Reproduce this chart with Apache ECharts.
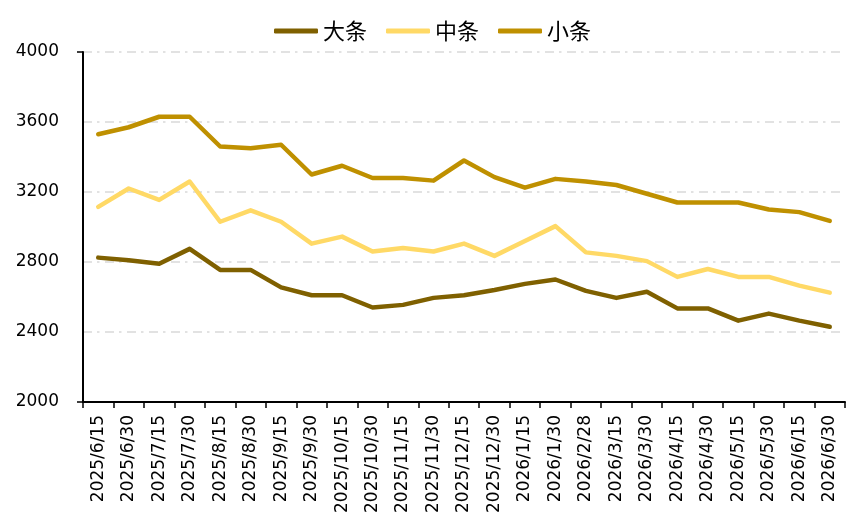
<!DOCTYPE html>
<html>
<head>
<meta charset="utf-8">
<script src="https://cdn.jsdelivr.net/npm/echarts@6/dist/echarts.min.js"></script>
<style>html,body{margin:0;padding:0;background:#fff;}#c{width:865px;height:523px;}</style>
</head>
<body>
<div id="c"></div>
<script>
const categories = ['2025/6/15','2025/6/30','2025/7/15','2025/7/30','2025/8/15','2025/8/30','2025/9/15','2025/9/30','2025/10/15','2025/10/30','2025/11/15','2025/11/30','2025/12/15','2025/12/30','2026/1/15','2026/1/30','2026/2/28','2026/3/15','2026/3/30','2026/4/15','2026/4/30','2026/5/15','2026/5/30','2026/6/15','2026/6/30'];
const seriesNames = ['大条','中条','小条'];
const daTiao = [2825,2810,2790,2875,2755,2755,2655,2610,2610,2540,2555,2595,2610,2640,2675,2700,2635,2595,2630,2535,2535,2465,2505,2465,2430];
const zhongTiao = [3115,3220,3155,3260,3030,3095,3030,2905,2945,2860,2880,2860,2905,2835,2920,3005,2855,2835,2805,2715,2760,2715,2715,2665,2625];
const xiaoTiao = [3530,3570,3630,3630,3460,3450,3470,3300,3350,3280,3280,3265,3380,3285,3225,3275,3260,3240,3190,3140,3140,3140,3100,3085,3035];
const yMin = 2000, yMax = 4000, yStep = 400;

const colors = ['#7F6000','#FFD966','#BF9000'];
const chart = echarts.init(document.getElementById('c'));
const mk = (name, data, color) => ({
  name, type: 'line', data, symbol: 'none', smooth: false,
  lineStyle: { color, width: 4.5, cap: 'round', join: 'round' },
  itemStyle: { color }
});
chart.setOption({
  animation: false,
  color: colors,
  legend: {
    top: 15, left: 'center',
    icon: 'roundRect', itemWidth: 44, itemHeight: 5, itemGap: 19,
    textStyle: { fontFamily: 'Noto Sans CJK SC', fontSize: 22, color: '#000' },
    data: seriesNames
  },
  grid: { left: 83, right: 20, top: 52, bottom: 121, containLabel: false },
  xAxis: {
    type: 'category', data: categories, boundaryGap: true,
    axisLine: { show: true, lineStyle: { color: '#000', width: 2 } },
    axisTick: { show: true, length: 6, lineStyle: { color: '#000', width: 1.5 }, alignWithLabel: false },
    axisLabel: { rotate: 90, interval: 0, margin: 13, fontFamily: 'DejaVu Sans', fontSize: 17, color: '#000' },
    splitLine: { show: false }
  },
  yAxis: [{
    type: 'value', min: yMin, max: yMax, interval: yStep,
    axisLine: { show: true, lineStyle: { color: '#000', width: 2 } },
    axisTick: { show: false },
    axisLabel: { margin: 24, fontFamily: 'DejaVu Sans', fontSize: 17, color: '#000', formatter: v => String(v) },
    splitLine: { show: true, lineStyle: { color: '#D9D9D9', width: 1.5, type: [9,5,2.5,5.5] } }
  },{
    type: 'value', position: 'left', min: yMin, max: yMax, interval: yMax - yMin,
    axisLine: { show: false },
    axisTick: { show: true, length: 6, lineStyle: { color: '#000', width: 1.5 } },
    axisLabel: { show: false },
    splitLine: { show: false }
  }],
  series: [
    mk(seriesNames[0], daTiao, colors[0]),
    mk(seriesNames[1], zhongTiao, colors[1]),
    mk(seriesNames[2], xiaoTiao, colors[2])
  ]
});
</script>
</body>
</html>
